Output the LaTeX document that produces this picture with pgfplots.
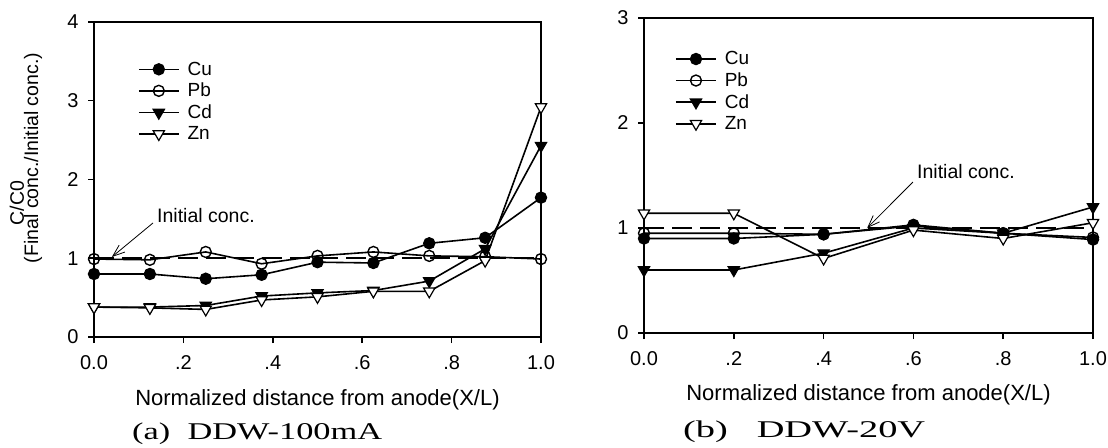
\documentclass[border=0pt]{standalone}
\usepackage{fontspec}
\setmainfont{Liberation Sans}
\newfontfamily\capfont{Liberation Serif}
\usepackage{pgfplots}
\pgfplotsset{compat=1.18}
\usetikzlibrary{arrows.meta}

\pgfplotstableread{
x     Cu    Pb    Cd    Zn
0     0.80  0.99  0.38  0.38
0.125 0.80  0.98  0.38  0.37
0.25  0.74  1.08  0.40  0.35
0.375 0.79  0.93  0.52  0.47
0.5   0.95  1.03  0.56  0.51
0.625 0.94  1.08  0.59  0.58
0.75  1.19  1.03  0.71  0.58
0.875 1.26  1.02  1.12  0.97
1.0   1.77  0.99  2.43  2.92
}\dataA

\pgfplotstableread{
x    Cu    Pb    Cd    Zn
0    0.90  0.95  0.60  1.14
0.2  0.90  0.95  0.60  1.14
0.4  0.94  0.94  0.76  0.71
0.6  1.03  1.02  1.00  0.98
0.8  0.95  0.95  0.95  0.90
1.0  0.89  0.91  1.20  1.05
}\dataB

\pgfplotsset{
  myax/.style={
    scale only axis, anchor=south west, xmin=0, xmax=1,
    axis line style={line width=1.6bp},
    tick pos=left, tick align=outside, major tick length=6bp,
    every tick/.style={line width=1.5bp, black},
    xtick={0,0.2,0.4,0.6,0.8,1}, xticklabels={0.0,.2,.4,.6,.8,1.0},
    /pgf/number format/assume math mode=true,
    tick label style={font=\fontsize{20bp}{23bp}\selectfont},
    xticklabel style={yshift=-9bp},
    yticklabel style={xshift=-6bp},
    xlabel style={font=\fontsize{22bp}{26bp}\selectfont},
    xlabel={Normalized distance from anode(X/L)},
    legend style={draw=none, fill=none, font=\fontsize{19bp}{22bp}\selectfont,
      anchor=north west, inner sep=0pt, row sep=4.5bp, column sep=7bp,
      nodes={inner sep=1bp}},
    legend cell align=left,
    legend image code/.code={\draw[mark repeat=2,mark phase=2,#1] plot coordinates {(0bp,0bp)(20bp,0bp)(40bp,0bp)};},
    every axis plot/.append style={line width=1.6bp, black},
  },
  sCu/.style={mark=*, mark size=5.5bp, mark options={fill=black, line width=1.4bp}},
  sPb/.style={mark=o, mark size=5.5bp, mark options={fill=white, line width=1.4bp}},
  sCd/.style={mark=triangle*, mark size=6.5bp, mark options={rotate=180, fill=black, line width=1.2bp}},
  sZn/.style={mark=triangle*, mark size=6.5bp, mark options={rotate=180, fill=white, line width=1.2bp}},
}

\begin{document}
\begin{tikzpicture}
\useasboundingbox (0,0) rectangle (1108bp,448bp);

\begin{axis}[myax, at={(94bp,111bp)}, width=447bp, height=315bp,
  ymin=0, ymax=4, ytick={0,1,2,3,4},
  xlabel style={at={(axis description cs:0.5,-0.216)}, anchor=base},
  legend style={at={(axis description cs:0.098,0.877)}}]
\addplot[forget plot, line width=1.5bp, dash pattern=on 20bp off 8bp] coordinates {(0,1) (1,1)};
\addplot[sCu] table[x=x,y=Cu]{\dataA};
\addplot[sPb] table[x=x,y=Pb]{\dataA};
\addplot[sCd] table[x=x,y=Cd]{\dataA};
\addplot[sZn] table[x=x,y=Zn]{\dataA};
\legend{Cu,Pb,Cd,Zn}
\draw[line width=0.8bp, -{Straight Barb[length=12bp,width=9bp]}] (axis cs:0.132,1.448) -- (axis cs:0.040,1.016);
\node[anchor=base west, inner sep=0pt, font=\fontsize{19.5bp}{22bp}\selectfont] at (axis cs:0.141,1.46) {Initial conc.};
\end{axis}

\begin{axis}[myax, at={(644bp,115bp)}, width=449bp, height=315bp,
  ymin=0, ymax=3, ytick={0,1,2,3},
  xlabel style={at={(axis description cs:0.5,-0.213)}, anchor=base},
  legend style={at={(axis description cs:0.069,0.897)}}]
\addplot[forget plot, line width=1.5bp, dash pattern=on 20bp off 8bp] coordinates {(0,1) (1,1)};
\addplot[sCu] table[x=x,y=Cu]{\dataB};
\addplot[sPb] table[x=x,y=Pb]{\dataB};
\addplot[sCd] table[x=x,y=Cd]{\dataB};
\addplot[sZn] table[x=x,y=Zn]{\dataB};
\legend{Cu,Pb,Cd,Zn}
\draw[line width=0.8bp, -{Straight Barb[length=12bp,width=9bp]}] (axis cs:0.599,1.438) -- (axis cs:0.497,1.0);
\node[anchor=base west, inner sep=0pt, font=\fontsize{19.5bp}{22bp}\selectfont] at (axis cs:0.608,1.476) {Initial conc.};
\end{axis}

\node[rotate=90, font=\fontsize{19.5bp}{22bp}\selectfont] at (17bp,245bp) {C/C0};
\node[rotate=90, font=\fontsize{19.5bp}{22bp}\selectfont] at (33bp,290bp) {(Final conc./Initial conc.)};

\node[anchor=base west, inner sep=0pt] at (132bp,8bp) {\resizebox{250bp}{\height}{\capfont\fontsize{24bp}{27bp}\selectfont (a)\ \ DDW-100mA}};
\node[anchor=base west, inner sep=0pt] at (683bp,10bp) {\resizebox{242bp}{\height}{\capfont\fontsize{24bp}{27bp}\selectfont (b)\ \ \ DDW-20V}};
\end{tikzpicture}
\end{document}
